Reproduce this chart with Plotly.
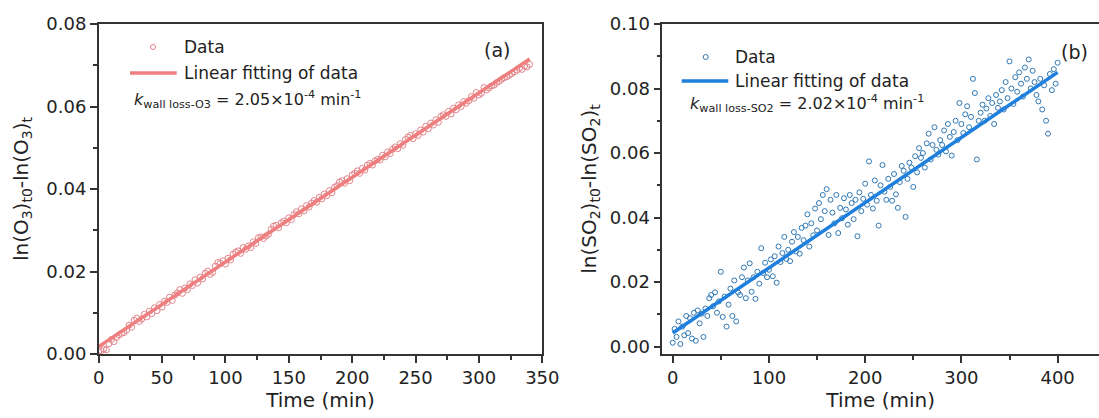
import plotly.graph_objects as go

# (a) O3 wall loss, one reading every 2 min
o3_time = list(range(0, 342, 2))
o3_ln = [
    0.0005, 0.0008, 0.0012, 0.0010, 0.0025, 0.0035, 0.0030, 0.0040, 0.0046, 0.0050,
    0.0052, 0.0058, 0.0070, 0.0065, 0.0082, 0.0087, 0.0079, 0.0085, 0.0096, 0.0090,
    0.0104, 0.0098, 0.0112, 0.0105, 0.0120, 0.0114, 0.0128, 0.0125, 0.0138, 0.0130,
    0.0143, 0.0148, 0.0156, 0.0147, 0.0160, 0.0156, 0.0170, 0.0166, 0.0180, 0.0172,
    0.0186, 0.0182, 0.0196, 0.0201, 0.0193, 0.0198, 0.0213, 0.0222, 0.0220, 0.0226,
    0.0218, 0.0232, 0.0228, 0.0242, 0.0247, 0.0250, 0.0244, 0.0258, 0.0254, 0.0262,
    0.0258, 0.0272, 0.0268, 0.0282, 0.0284, 0.0280, 0.0286, 0.0290, 0.0302, 0.0310,
    0.0312, 0.0306, 0.0318, 0.0322, 0.0318, 0.0330, 0.0326, 0.0338, 0.0345, 0.0340,
    0.0352, 0.0347, 0.0360, 0.0356, 0.0366, 0.0372, 0.0368, 0.0380, 0.0376, 0.0388,
    0.0384, 0.0396, 0.0391, 0.0404, 0.0408, 0.0417, 0.0420, 0.0414, 0.0425, 0.0420,
    0.0434, 0.0438, 0.0444, 0.0438, 0.0450, 0.0446, 0.0458, 0.0462, 0.0458, 0.0468,
    0.0472, 0.0470, 0.0482, 0.0478, 0.0490, 0.0486, 0.0497, 0.0502, 0.0498, 0.0510,
    0.0506, 0.0520, 0.0526, 0.0530, 0.0522, 0.0534, 0.0530, 0.0543, 0.0538, 0.0552,
    0.0546, 0.0560, 0.0555, 0.0568, 0.0562, 0.0576, 0.0580, 0.0576, 0.0588, 0.0582,
    0.0596, 0.0592, 0.0604, 0.0600, 0.0612, 0.0608, 0.0614, 0.0624, 0.0620, 0.0634,
    0.0628, 0.0632, 0.0646, 0.0640, 0.0645, 0.0650, 0.0652, 0.0658, 0.0661, 0.0666,
    0.0670, 0.0672, 0.0676, 0.0680, 0.0684, 0.0688, 0.0693, 0.0690, 0.0698, 0.0696,
    0.0702,
]
o3_k = 2.05e-4
o3_b = 0.0018

# (b) SO2 wall loss, one reading every 2 min
so2_time = list(range(0, 402, 2))
so2_ln = [
    0.0012, 0.0055, 0.0030, 0.0078, 0.0008, 0.0062, 0.0035, 0.0095, 0.0042, 0.0088,
    0.0025, 0.0105, 0.0018, 0.0112, 0.0072, 0.0102, 0.0030, 0.0118, 0.0095, 0.0150,
    0.0160, 0.0125, 0.0168, 0.0105, 0.0140, 0.0232, 0.0092, 0.0155, 0.0062, 0.0130,
    0.0180, 0.0095, 0.0205, 0.0078, 0.0168, 0.0160, 0.0215, 0.0245, 0.0150, 0.0205,
    0.0258, 0.0170, 0.0215, 0.0148, 0.0232, 0.0195, 0.0305, 0.0228, 0.0260, 0.0215,
    0.0238, 0.0270, 0.0218, 0.0280, 0.0198, 0.0310, 0.0262, 0.0290, 0.0340, 0.0272,
    0.0300, 0.0265, 0.0325, 0.0355, 0.0295, 0.0340, 0.0288, 0.0368, 0.0330, 0.0375,
    0.0410, 0.0310, 0.0382, 0.0345, 0.0428, 0.0360, 0.0445, 0.0395, 0.0470, 0.0420,
    0.0488, 0.0346, 0.0455, 0.0415, 0.0382, 0.0470, 0.0352, 0.0430, 0.0398, 0.0460,
    0.0425, 0.0378, 0.0470, 0.0445, 0.0395, 0.0455, 0.0342, 0.0478, 0.0420, 0.0458,
    0.0505, 0.0440, 0.0574, 0.0470, 0.0428, 0.0515, 0.0452, 0.0375, 0.0500, 0.0563,
    0.0480, 0.0455, 0.0520, 0.0495, 0.0452, 0.0535, 0.0472, 0.0430, 0.0510, 0.0560,
    0.0545, 0.0402, 0.0520, 0.0570, 0.0555, 0.0495, 0.0590, 0.0540, 0.0615, 0.0585,
    0.0600, 0.0555, 0.0630, 0.0660, 0.0580, 0.0625, 0.0680, 0.0610, 0.0595, 0.0640,
    0.0625, 0.0670, 0.0605, 0.0690, 0.0650, 0.0592, 0.0665, 0.0700, 0.0640, 0.0755,
    0.0690, 0.0662, 0.0720, 0.0745, 0.0680, 0.0712, 0.0830, 0.0786, 0.0580, 0.0700,
    0.0725, 0.0750, 0.0700, 0.0738, 0.0770, 0.0715, 0.0755, 0.0690, 0.0780, 0.0740,
    0.0760, 0.0795, 0.0735, 0.0820, 0.0770, 0.0884, 0.0800, 0.0752, 0.0835, 0.0790,
    0.0850, 0.0815, 0.0775, 0.0865, 0.0830, 0.0890, 0.0800, 0.0855, 0.0820, 0.0780,
    0.0760, 0.0830, 0.0735, 0.0810, 0.0700, 0.0660, 0.0845, 0.0795, 0.0860, 0.0815,
    0.0880,
]
so2_k = 2.02e-4
so2_b = 0.0042

o3_color = "#EF7F7F"
o3_marker = "#E2848A"
so2_color = "#1E7FDD"
so2_marker = "#2F78B4"

FONT = "DejaVu Sans"
W, H = 1099, 418
T, B = 24, 64


def px(x):
    return x / W


def py(y):
    return (H - B - y) / (H - T - B)


fig = go.Figure()

fig.add_trace(go.Scatter(
    x=o3_time, y=o3_ln, mode="markers", xaxis="x", yaxis="y",
    marker=dict(symbol="circle-open", size=6, color=o3_marker, line=dict(width=1)),
    showlegend=False))
o3_fit_x = [o3_time[0], o3_time[-1]]
fig.add_trace(go.Scatter(
    x=o3_fit_x, y=[o3_b + o3_k * t for t in o3_fit_x], mode="lines",
    xaxis="x", yaxis="y", line=dict(color=o3_color, width=3.5), showlegend=False))

fig.add_trace(go.Scatter(
    x=so2_time, y=so2_ln, mode="markers", xaxis="x2", yaxis="y2",
    marker=dict(symbol="circle-open", size=5, color=so2_marker, line=dict(width=1)),
    showlegend=False))
so2_fit_x = [so2_time[0], so2_time[-1]]
fig.add_trace(go.Scatter(
    x=so2_fit_x, y=[so2_b + so2_k * t for t in so2_fit_x], mode="lines",
    xaxis="x2", yaxis="y2", line=dict(color=so2_color, width=3.5), showlegend=False))

axis_common = dict(
    showline=True, linecolor="#333", linewidth=1.5, automargin=False,
    ticks="outside", ticklen=7, tickwidth=1.5, tickcolor="#333",
    showgrid=False, zeroline=False,
    tickfont=dict(family=FONT, size=18, color="#222"),
    title_font=dict(family=FONT, size=20, color="#222"),
)

fig.update_layout(
    width=W, height=H,
    margin=dict(l=0, r=0, t=T, b=B),
    plot_bgcolor="white", paper_bgcolor="white",
    font=dict(family=FONT, color="#222"),
    xaxis=dict(domain=[px(98.7), px(542.3)], range=[0, 350], dtick=50, mirror=True,
               minor=dict(dtick=25, ticks="outside", ticklen=4, tickcolor="#333"),
               title=dict(text="Time (min)", standoff=6), anchor="y", **axis_common),
    yaxis=dict(domain=[0, 1], range=[0, 0.08], dtick=0.02, tickformat=".2f", mirror=True,
               minor=dict(dtick=0.01, ticks="outside", ticklen=4, tickcolor="#333"),
               title=dict(text="ln(O<sub>3</sub>)<sub>t0</sub>-ln(O<sub>3</sub>)<sub>t</sub>",
                          standoff=12), anchor="x", **axis_common),
    xaxis2=dict(domain=[px(662.3), 1], range=[-10.8, 443], dtick=100, mirror=True,
                minor=dict(dtick=50, ticks="outside", ticklen=4, tickcolor="#333"),
                title=dict(text="Time (min)", standoff=6), anchor="y2", **axis_common),
    yaxis2=dict(domain=[0, 1], range=[-0.0023, 0.10], dtick=0.02, tickformat=".2f",
                minor=dict(dtick=0.01, ticks="outside", ticklen=4, tickcolor="#333"),
                title=dict(text="ln(SO<sub>2</sub>)<sub>t0</sub>-ln(SO<sub>2</sub>)<sub>t</sub>",
                           standoff=8), anchor="x2", **axis_common),
)

# hand-drawn legends, one per panel
legends = [
    dict(mx=153, my=47, lx0=130, lx1=176.7, ly=73, tx=181.7, mcol=o3_marker, lcol=o3_color,
         kx=131.7, ky=99, k="<i>k</i><sub>wall loss-O3</sub> = 2.05×10<sup>-4</sup> min<sup>-1</sup>",
         tag="(a)", tagx=496.7, tagy=50),
    dict(mx=705.7, my=57, lx0=681.7, lx1=728.3, ly=81, tx=733.3, mcol=so2_marker, lcol=so2_color,
         kx=688, ky=103, k="<i>k</i><sub>wall loss-SO2</sub> = 2.02×10<sup>-4</sup> min<sup>-1</sup>",
         tag="(b)", tagx=1074, tagy=52),
]
for lg in legends:
    fig.add_shape(type="circle", xref="paper", yref="paper", xsizemode="pixel", ysizemode="pixel",
                  xanchor=px(lg["mx"]), yanchor=py(lg["my"]), x0=-2.5, x1=2.5, y0=-2.5, y1=2.5,
                  line=dict(color=lg["mcol"], width=1))
    fig.add_shape(type="line", xref="paper", yref="paper",
                  x0=px(lg["lx0"]), x1=px(lg["lx1"]), y0=py(lg["ly"]), y1=py(lg["ly"]),
                  line=dict(color=lg["lcol"], width=3.5))
    for text, y in (("Data", lg["my"]), ("Linear fitting of data", lg["ly"])):
        fig.add_annotation(x=px(lg["tx"]), y=py(y), xref="paper", yref="paper", text=text,
                           xanchor="left", yanchor="middle", showarrow=False,
                           font=dict(family=FONT, size=17, color="#222"))
    fig.add_annotation(x=px(lg["kx"]), y=py(lg["ky"]), xref="paper", yref="paper", text=lg["k"],
                       xanchor="left", yanchor="middle", showarrow=False,
                       font=dict(family=FONT, size=16, color="#222"))
    fig.add_annotation(x=px(lg["tagx"]), y=py(lg["tagy"]), xref="paper", yref="paper",
                       text=lg["tag"], xanchor="center", yanchor="middle", showarrow=False,
                       font=dict(family=FONT, size=19, color="#222"))

# the page's default body margin would push the figure 8px right and down
fig.write_html("out.html", config={"displayModeBar": False},
               post_script="document.body.style.margin = '0';")
